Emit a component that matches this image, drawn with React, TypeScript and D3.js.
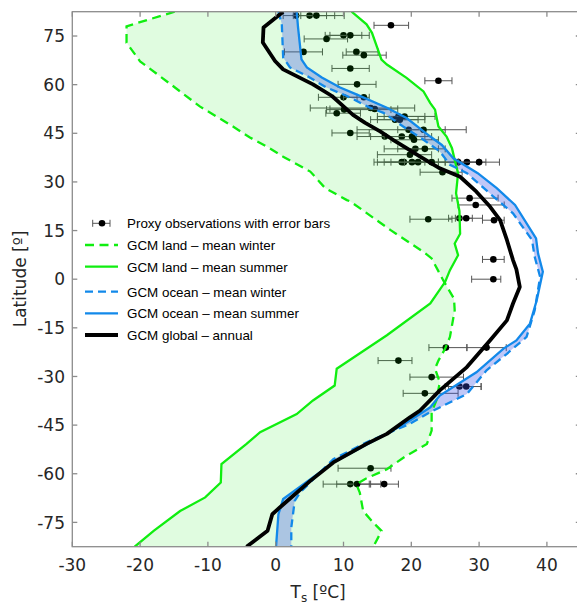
import React from 'react';
import * as d3 from 'd3';

type Pt = [number, number]; // [temperature °C, latitude °]

const W = 577;
const H = 605;
const PLOT = { left: 72.3, right: 580.8, top: 11.7, bottom: 546.7 };

const xTicks = [-30, -20, -10, 0, 10, 20, 30, 40];
const yTicks = [-75, -60, -45, -30, -15, 0, 15, 30, 45, 60, 75];

// GCM land, mean winter
const landWinter: Pt[] = [
  [-14.9, 82.5], [-22.0, 78.0], [-22.0, 72.9], [-20.0, 67.2], [-15.1, 59.5], [-11.2, 53.3],
  [-6.3, 47.1], [-3.8, 43.7], [-1.3, 40.9], [1.1, 37.8], [5.1, 33.2], [7.3, 28.1], [10.5, 24.4],
  [11.0, 24.0], [16.9, 15.2], [21.8, 8.4], [23.0, 6.4], [24.7, -0.3], [26.3, -6.0], [26.4, -9.6],
  [25.7, -17.8], [25.0, -21.4], [24.0, -25.1], [23.5, -27.6], [24.2, -31.8], [23.7, -37.4],
  [23.0, -41.0], [23.0, -46.7], [22.3, -50.8], [19.3, -54.4], [16.4, -58.6], [13.2, -61.6],
  [11.9, -63.2], [12.4, -65.8], [12.9, -71.5], [14.4, -75.1], [15.6, -77.6], [15.1, -79.7],
  [14.4, -82.5],
];

// GCM land, mean summer
const landSummer: Pt[] = [
  [11.2, 82.5], [13.4, 78.6], [14.2, 76.0], [15.6, 67.7], [16.4, 66.2], [19.3, 62.1],
  [21.8, 57.9], [22.8, 54.3], [23.5, 52.3], [24.0, 47.1], [25.2, 44.0], [26.0, 40.4],
  [26.4, 36.8], [26.9, 32.7], [26.6, 26.5], [27.1, 21.0], [27.2, 14.0], [26.4, 11.0],
  [26.9, 7.4], [25.7, 2.8], [25.0, -0.8], [22.8, -7.5], [16.4, -17.3], [9.0, -27.6],
  [8.7, -32.8], [5.5, -37.4], [3.1, -41.6], [-2.3, -47.2], [-4.3, -50.8], [-8.0, -57.0],
  [-8.1, -62.7], [-10.4, -67.3], [-14.1, -71.5], [-18.0, -77.6], [-20.8, -82.5],
];

// GCM ocean, mean winter
const oceanWinter: Pt[] = [
  [0.4, 82.5], [0.9, 78.7], [1.1, 68.4], [2.1, 65.3], [4.6, 62.7], [7.5, 59.1], [10.5, 56.5],
  [13.9, 52.9], [15.9, 51.3], [18.8, 47.1], [21.8, 43.0], [24.2, 39.4], [25.7, 35.3],
  [28.2, 32.7], [32.1, 25.5], [35.0, 20.3], [37.8, 12.1], [38.2, 6.9], [39.0, 0.7],
  [38.2, -9.6], [37.0, -17.8], [34.1, -23.0], [31.1, -28.1], [28.2, -35.4], [22.8, -41.0],
  [19.8, -44.6], [13.4, -50.3], [8.5, -55.5], [3.6, -65.8], [2.8, -68.4], [2.3, -76.6],
  [2.3, -82.5],
];

// GCM ocean, mean summer
const oceanSummer: Pt[] = [
  [3.1, 82.5], [3.3, 77.6], [3.8, 67.8], [4.6, 65.3], [6.8, 62.2], [9.5, 59.1], [11.9, 57.0],
  [16.4, 52.9], [19.3, 49.7], [22.8, 44.0], [24.5, 41.4], [26.2, 37.3], [29.8, 32.7],
  [32.6, 28.1], [35.3, 22.9], [38.4, 12.6], [38.7, 7.9], [39.4, 2.3], [38.5, -6.5],
  [37.5, -13.7], [35.5, -18.9], [33.6, -21.4], [29.6, -28.7], [24.2, -35.9], [22.8, -39.5],
  [19.8, -43.6], [16.4, -47.7], [8.5, -56.5], [6.5, -59.6], [1.1, -67.8], [0.4, -72.5],
  [0.05, -82.5],
];

// GCM global, annual mean
const globalAnnual: Pt[] = [
  [1.1, 82.5], [-1.8, 77.6], [-1.9, 73.0], [-0.1, 67.3], [1.1, 64.7], [5.5, 60.1], [8.3, 56.5],
  [10.0, 53.3], [11.4, 50.7], [13.2, 48.2], [15.4, 45.6], [17.3, 43.0], [19.3, 40.4],
  [21.3, 37.8], [24.2, 34.2], [27.2, 31.6], [29.6, 27.0], [31.6, 22.4], [33.1, 18.2],
  [34.1, 12.1], [35.0, 5.9], [35.5, 3.0], [36.0, -2.4], [35.0, -7.5], [34.1, -12.7],
  [31.6, -18.9], [28.2, -27.1], [24.2, -34.3], [21.3, -40.5], [19.8, -42.6], [16.4, -47.7],
  [13.4, -50.8], [8.5, -56.5], [5.1, -62.2], [0.6, -70.4], [-0.5, -72.5], [-1.2, -77.6],
  [-4.3, -82.5],
];

// Proxy observations: value, latitude, lower and upper error limits
const proxyT = [
  3.0, 5.0, 6.0, 17.0, 10.0, 11.0, 7.5, 4.1, 11.9, 13.0, 11.0, 24.0, 12.0, 10.0, 13.0,
  14.0, 14.6, 10.1, 9.0, 18.1, 19.0, 17.6, 18.3, 19.6, 21.8, 11.0, 16.1, 18.6, 20.1, 20.4,
  20.6, 22.0, 19.8, 18.6, 18.9, 20.1, 21.0, 23.0, 26.9, 28.2, 30.0, 24.6, 28.6, 29.5, 22.5,
  27.1, 28.1, 32.2, 32.1, 32.1, 25.1, 31.1, 18.1, 23.0, 27.1, 28.1, 22.0, 14.0, 11.0, 12.0,
  16.0,
];
const proxyLat = [
  81.3, 81.3, 81.3, 78.3, 75.2, 75.2, 74.1, 70.1, 70.1, 69.1, 65.0, 61.2, 60.1, 56.1, 56.1,
  52.8, 52.5, 52.3, 51.2, 50.2, 50.2, 49.2, 49.2, 46.1, 46.1, 45.1, 44.0, 44.0, 44.0, 43.0,
  40.2, 40.2, 38.4, 36.1, 36.1, 36.1, 36.1, 36.1, 36.1, 36.1, 36.1, 33.0, 25.0, 22.9, 18.5,
  18.8, 18.8, 18.2, 6.1, 0.0, -21.1, -21.1, -25.1, -30.2, -33.1, -33.1, -35.2, -58.3, -63.2, -63.2,
  -63.2,
];
const proxyLo = [
  1.1, 2.6, 3.7, 14.5, 7.3, 8.0, 4.2, 1.3, 10.4, 9.9, 8.3, 22.0, 9.2, 6.3, 10.0,
  5.1, 8.0, 7.5, 7.4, 15.0, 16.0, 14.0, 15.0, 12.0, 18.0, 8.3, 12.0, 14.0, 16.0, 17.0,
  16.0, 18.0, 15.0, 14.5, 15.0, 16.0, 17.0, 19.0, 24.0, 25.0, 27.0, 21.3, 26.0, 26.9, 19.8,
  25.5, 26.5, 30.5, 30.5, 28.9, 22.6, 28.2, 15.1, 19.8, 25.0, 25.5, 18.8, 9.2, 7.0, 9.0,
  13.8,
];
const proxyHi = [
  7.5, 8.7, 10.1, 19.6, 12.7, 13.8, 10.6, 6.9, 15.1, 16.3, 13.8, 26.0, 14.8, 12.0, 13.8,
  20.5, 18.0, 17.0, 12.5, 22.0, 23.5, 21.0, 22.0, 28.1, 25.0, 13.8, 20.0, 22.0, 23.0, 24.0,
  24.0, 25.0, 23.0, 22.0, 23.0, 24.0, 25.0, 27.0, 30.0, 31.0, 33.0, 27.5, 32.8, 33.7, 26.0,
  29.0, 30.5, 33.7, 33.7, 33.2, 28.2, 34.0, 20.1, 27.7, 30.3, 30.3, 26.9, 17.0, 14.0, 15.5,
  18.1,
];

const GREEN = '#10ee10';
const BLUE = '#1289ea';
const AXIS = '#8c8c8c';
const TEXT = '#262626';

const legendLabels = [
  'Proxy observations with error bars',
  'GCM land \u2013 mean winter',
  'GCM land \u2013 mean summer',
  'GCM ocean \u2013 mean winter',
  'GCM ocean \u2013 mean summer',
  'GCM global \u2013 annual',
];
const legendRows = [223.3, 245, 266.7, 291.7, 313.3, 335];

export default function App() {
  const x = d3.scaleLinear().domain([-30, 45]).range([PLOT.left, PLOT.right]);
  const y = d3.scaleLinear().domain([-82.5, 82.5]).range([PLOT.bottom, PLOT.top]);
  const line = d3.line<Pt>().x((d) => x(d[0])).y((d) => y(d[1]));
  const band = (a: Pt[], b: Pt[]) => (line([...a, ...b.slice().reverse()]) || '') + 'Z';

  const proxies = proxyT.map((t, i) => ({ t, lat: proxyLat[i], lo: proxyLo[i], hi: proxyHi[i] }));
  const tickLen = 5;

  const landDash = '9,5.5';
  const oceanDash = '8,5';
  const lineStyles = [
    null,
    { stroke: GREEN, width: 2.3, dash: landDash },
    { stroke: GREEN, width: 2.3, dash: undefined },
    { stroke: BLUE, width: 2.3, dash: oceanDash },
    { stroke: BLUE, width: 2.3, dash: undefined },
    { stroke: '#000', width: 3.8, dash: undefined },
  ];

  return (
    <svg
      width={W}
      height={H}
      style={{ position: 'absolute', left: 0, top: 0, background: '#fff' }}
    >
      <defs>
        <clipPath id="plot-area">
          <rect x={PLOT.left} y={PLOT.top} width={PLOT.right - PLOT.left} height={PLOT.bottom - PLOT.top} />
        </clipPath>
      </defs>

      <g clipPath="url(#plot-area)">
        {/* proxy error bars and points */}
        {proxies.map((p, i) => (
          <g key={i}>
            <line x1={x(p.lo)} x2={x(p.hi)} y1={y(p.lat)} y2={y(p.lat)} stroke="#555" strokeWidth={1} />
            <line x1={x(p.lo)} x2={x(p.lo)} y1={y(p.lat) - 3.5} y2={y(p.lat) + 3.5} stroke="#555" strokeWidth={1} />
            <line x1={x(p.hi)} x2={x(p.hi)} y1={y(p.lat) - 3.5} y2={y(p.lat) + 3.5} stroke="#555" strokeWidth={1} />
            <circle cx={x(p.t)} cy={y(p.lat)} r={3.3} fill="#000" />
          </g>
        ))}

        {/* seasonal envelopes */}
        <path d={band(landSummer, landWinter)} fill="rgb(0,230,0)" fillOpacity={0.12} stroke="none" />
        <path d={band(oceanSummer, oceanWinter)} fill="rgb(60,80,230)" fillOpacity={0.32} stroke="none" />

        {/* model curves */}
        <path d={line(landWinter) || ''} fill="none" stroke={GREEN} strokeWidth={2.3} strokeDasharray={landDash} />
        <path d={line(landSummer) || ''} fill="none" stroke={GREEN} strokeWidth={2.3} />
        <path d={line(oceanWinter) || ''} fill="none" stroke={BLUE} strokeWidth={2.3} strokeDasharray={oceanDash} />
        <path d={line(oceanSummer) || ''} fill="none" stroke={BLUE} strokeWidth={2.3} />
        <path d={line(globalAnnual) || ''} fill="none" stroke="#000" strokeWidth={3.8} strokeLinejoin="round" />
      </g>

      {/* axes box */}
      <rect
        x={PLOT.left}
        y={PLOT.top}
        width={PLOT.right - PLOT.left}
        height={PLOT.bottom - PLOT.top}
        fill="none"
        stroke={AXIS}
        strokeWidth={1.3}
      />
      {xTicks.map((t) => (
        <g key={'x' + t}>
          <line x1={x(t)} x2={x(t)} y1={PLOT.bottom} y2={PLOT.bottom - tickLen} stroke={AXIS} strokeWidth={1.3} />
          <line x1={x(t)} x2={x(t)} y1={PLOT.top} y2={PLOT.top + tickLen} stroke={AXIS} strokeWidth={1.3} />
          <text
            x={x(t)}
            y={571}
            textAnchor="middle"
            fontFamily="DejaVu Sans"
            fontSize={17}
            fill={TEXT}
          >
            {t}
          </text>
        </g>
      ))}
      {yTicks.map((t) => (
        <g key={'y' + t}>
          <line x1={PLOT.left} x2={PLOT.left + tickLen} y1={y(t)} y2={y(t)} stroke={AXIS} strokeWidth={1.3} />
          <line x1={PLOT.right} x2={PLOT.right - tickLen} y1={y(t)} y2={y(t)} stroke={AXIS} strokeWidth={1.3} />
          <text
            x={65}
            y={y(t) + 6.2}
            textAnchor="end"
            fontFamily="DejaVu Sans"
            fontSize={17}
            fill={TEXT}
          >
            {t}
          </text>
        </g>
      ))}

      {/* axis titles */}
      <text x={290.5} y={597.5} fontFamily="DejaVu Sans" fontSize={17} fill={TEXT}>
        T
        <tspan fontSize={12} dy={4}>s</tspan>
        <tspan dy={-4}> [ºC]</tspan>
      </text>
      <text
        transform="translate(26,279) rotate(-90)"
        textAnchor="middle"
        fontFamily="DejaVu Sans"
        fontSize={17}
        fill={TEXT}
      >
        Latitude [º]
      </text>

      {/* legend */}
      {legendLabels.map((label, i) => {
        const ly = legendRows[i];
        const st = lineStyles[i];
        return (
          <g key={label}>
            {st ? (
              <line x1={85} x2={118} y1={ly} y2={ly} stroke={st.stroke} strokeWidth={st.width} strokeDasharray={st.dash} />
            ) : (
              <g>
                <line x1={92.7} x2={110} y1={ly} y2={ly} stroke="#555" strokeWidth={1} />
                <line x1={92.7} x2={92.7} y1={ly - 3.5} y2={ly + 3.5} stroke="#555" strokeWidth={1} />
                <line x1={110} x2={110} y1={ly - 3.5} y2={ly + 3.5} stroke="#555" strokeWidth={1} />
                <circle cx={102} cy={ly} r={3.3} fill="#000" />
              </g>
            )}
            <text x={127} y={ly + 4.8} fontFamily="Liberation Sans" fontSize={13.4} fill="#000">
              {label}
            </text>
          </g>
        );
      })}
    </svg>
  );
}
